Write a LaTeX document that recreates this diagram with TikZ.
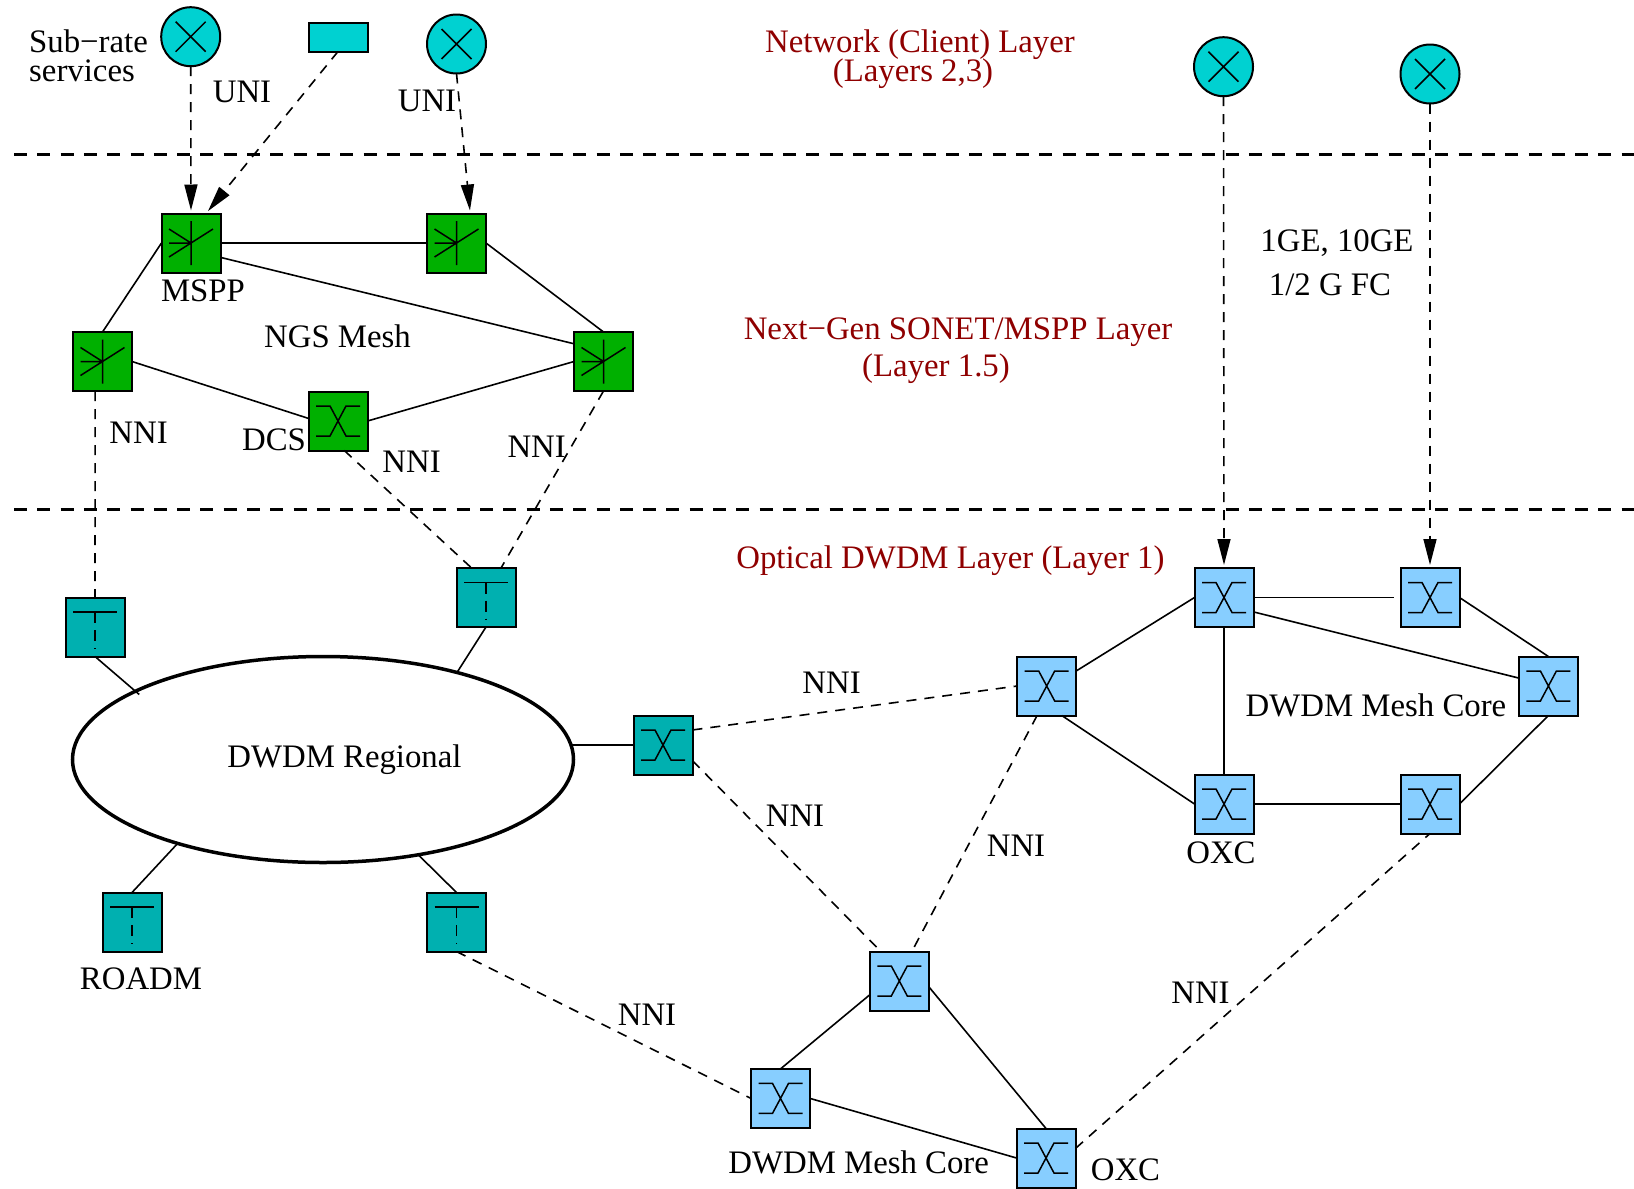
\documentclass[tikz,border=0pt]{standalone}
\usepackage{fontspec}
\setmainfont{Liberation Serif}
\usetikzlibrary{arrows.meta,shapes.geometric}
\definecolor{svc}{HTML}{00D1D1}
\definecolor{ngsg}{HTML}{00B000}
\definecolor{roadm}{HTML}{00B0B0}
\definecolor{oxc}{HTML}{87CEFF}
\definecolor{layerred}{HTML}{8F0000}
\tikzset{
  lbl/.style={anchor=base,inner sep=0pt,font=\fontsize{32.8}{36}\selectfont},
  lblw/.style={lbl,anchor=base west},
  redlbl/.style={lbl,text=layerred},
  boxbase/.style={draw=black,line width=2pt,minimum width=59pt,minimum height=59pt,inner sep=0pt,outer sep=0pt},
  glyph/.style={line width=1.5pt},
  starbox/.style={boxbase,fill=ngsg,path picture={
    \begin{scope}[shift={(path picture bounding box.center)}]
      \draw[glyph] (0,-22)--(0,22) (-22,0)--(0,0) (-22,-14)--(0,0) (-22,14)--(22,-14);
    \end{scope}}},
  xcglyph/.style={path picture={
    \begin{scope}[shift={(path picture bounding box.center)}]
      \draw[glyph] (-22,-15)--(-8,-15)--(8,15)--(22,15) (22,-15)--(8,-15)--(-8,15)--(-22,15);
    \end{scope}}},
  xcgreen/.style={boxbase,fill=ngsg,xcglyph},
  xcteal/.style={boxbase,fill=roadm,xcglyph},
  xcblue/.style={boxbase,fill=oxc,xcglyph},
  tbox/.style={boxbase,fill=roadm,path picture={
    \begin{scope}[shift={(path picture bounding box.center)}]
      \draw[glyph] (-22,-15)--(22,-15);
      \draw[glyph,dash pattern=on 11pt off 7pt] (0,-15)--(0,22);
    \end{scope}}},
  svccircle/.style={draw=black,line width=2pt,circle,fill=svc,minimum size=59pt,inner sep=0pt,outer sep=0pt,path picture={
    \begin{scope}[shift={(path picture bounding box.center)}]
      \draw[glyph] (-15,-15)--(15,15) (-15,15)--(15,-15);
    \end{scope}}},
  svcrect/.style={draw=black,line width=2pt,fill=svc,minimum width=59pt,minimum height=29pt,inner sep=0pt,outer sep=0pt},
  link/.style={line width=1.6pt},
  dlink/.style={line width=1.6pt,dash pattern=on 10pt off 8pt},
  uplink/.style={dlink,-{Triangle[length=26pt,width=13pt]},shorten >=3pt},
  layerline/.style={line width=3pt,dash pattern=on 13pt off 10.3pt},
  cloud/.style={draw=black,line width=3.5pt,ellipse,minimum width=501pt,minimum height=206pt,inner sep=0pt,outer sep=0pt},
}
\begin{document}
\begin{tikzpicture}[x=1pt,y=-1pt]
\useasboundingbox (0,0) rectangle (1634,1189);
% layer lines
\coordinate (l1a) at (14,154.6); \coordinate (l1b) at (1634,154.6);
\coordinate (l2a) at (14,509); \coordinate (l2b) at (1634,509);
\draw[layerline] (l1a)--(l1b);
\draw[layerline] (l2a)--(l2b);
% client layer
\node[svccircle] (c1) at (190.7,36.7) {};
\node[svcrect] (r1) at (338,37) {};
\node[svccircle] (c2) at (456.5,44) {};
\node[svccircle] (c3) at (1223.5,66.7) {};
\node[svccircle] (c4) at (1430,74) {};
% NGS layer
\node[starbox] (g1) at (191,243) {};
\node[starbox] (g2) at (456.5,243) {};
\node[starbox] (g3) at (102.5,361.5) {};
\node[starbox] (g4) at (603.5,361.5) {};
\node[xcgreen] (dcs) at (338,421) {};
% regional
\node[cloud] (reg) at (323,759.5) {};
\node[tbox] (t1) at (95,627) {};
\node[tbox] (t2) at (486,597.5) {};
\node[tbox] (t3) at (132,922) {};
\node[tbox] (t4) at (456.5,922) {};
\node[xcteal] (t5) at (663,745) {};
% mesh core
\node[xcblue] (b1) at (1224,597.5) {};
\node[xcblue] (b2) at (1430,597.5) {};
\node[xcblue] (b3) at (1046.7,686) {};
\node[xcblue] (b4) at (1548.4,686) {};
\node[xcblue] (b5) at (1224,804) {};
\node[xcblue] (b6) at (1430,804) {};
\node[xcblue] (b7) at (899.3,981) {};
\node[xcblue] (b8) at (780.5,1098.4) {};
\node[xcblue] (b9) at (1046,1158) {};
% uplinks
\draw[uplink] (c1.south)--(g1.north);
\draw[uplink] (r1.south)--(g1.63);
\draw[uplink] (c2.south)--(g2.65.8);
\draw[uplink] (c3.south)--(b1.north);
\draw[uplink] (c4.south)--(b2.north);
% solid links
\draw[link] (g1.east)--(g2.west);
\draw[link] (g1.-26.6)--(g4.149.6);
\draw[link] (g2.east)--(g4.north);
\draw[link] (g1.west)--(g3.north);
\draw[link] (g3.east)--(dcs.175);
\draw[link] (dcs.east)--(g4.west);
\draw[link,shorten >=-5pt] (t1.south)--(reg.160.1);
\draw[link] (t2.south)--(reg.33.6);
\draw[link] (t3.north)--(reg.210);
\draw[link] (t4.north)--(reg.315);
\draw[link,shorten <=-3pt] (reg.east |- t5.west)--(t5.west);
\draw[link,shorten >=7pt] (b1.east)--(b2.west);
\draw[link] (b1.-26.9)--(b4.165);
\draw[link] (b2.east)--(b4.north);
\draw[link] (b4.south)--(b6.east);
\draw[link] (b5.east)--(b6.west);
\draw[link] (b1.west)--(b3.27);
\draw[link] (b3.-63)--(b5.west);
\draw[link] (b1.south)--(b5.north);
\draw[link] (b7.205.5)--(b8.north);
\draw[link] (b7.-11.3)--(b9.north);
\draw[link] (b8.east)--(b9.west);
% dashed links
\draw[dlink] (g3.256)--(t1.north);
\draw[dlink] (dcs.-78.7)--(t2.116.6);
\draw[dlink] (g4.south)--(t2.63.4);
\draw[dlink] (t4.south)--(b8.west);
\draw[dlink] (t5.27.3)--(b3.west);
\draw[dlink] (t5.-28)--(b7.122);
\draw[dlink] (b3.252)--(b7.67);
\draw[dlink] (b9.18.4)--(b6.south);
% labels
\node[lblw] (s1) at (29,52.7) {Sub−rate};
\node[lblw] (s2) at (29,81) {services};
\node[lbl] (u1) at (242,102.7) {UNI};
\node[lbl] (u2) at (427,111) {UNI};
\node[lbl] (m1) at (203,301.7) {MSPP};
\node[lbl] (n0) at (337.5,347.7) {NGS Mesh};
\node[redlbl] (a1) at (920,52) {Network (Client) Layer};
\node[redlbl] (a2) at (913,81) {(Layers 2,3)};
\node[redlbl] (a3) at (958,339) {Next−Gen SONET/MSPP Layer};
\node[redlbl] (a4) at (936,376) {(Layer 1.5)};
\node[redlbl] (a5) at (950.4,568) {Optical DWDM Layer (Layer 1)};
\node[lbl] (e1) at (1337,251) {1GE, 10GE};
\node[lbl] (e2) at (1330,295) {1/2 G FC};
\node[lbl] (n1) at (138.6,443) {NNI};
\node[lbl] (d1) at (274,450.4) {DCS};
\node[lbl] (n2) at (411.6,472) {NNI};
\node[lbl] (n3) at (536.7,457) {NNI};
\node[lbl] (r0) at (344.5,767.7) {DWDM Regional};
\node[lbl] (r2) at (141,989) {ROADM};
\node[lbl] (n4) at (831.6,693) {NNI};
\node[lbl] (n5) at (795,826.6) {NNI};
\node[lbl] (n6) at (1016,856) {NNI};
\node[lbl] (n7) at (647,1025.6) {NNI};
\node[lbl] (n8) at (1200.5,1003) {NNI};
\node[lbl] (k1) at (1376,716) {DWDM Mesh Core};
\node[lbl] (o1) at (1221,863) {OXC};
\node[lbl] (k2) at (858.7,1173.7) {DWDM Mesh Core};
\node[lbl] (o2) at (1125.5,1180) {OXC};
\end{tikzpicture}
\end{document}
